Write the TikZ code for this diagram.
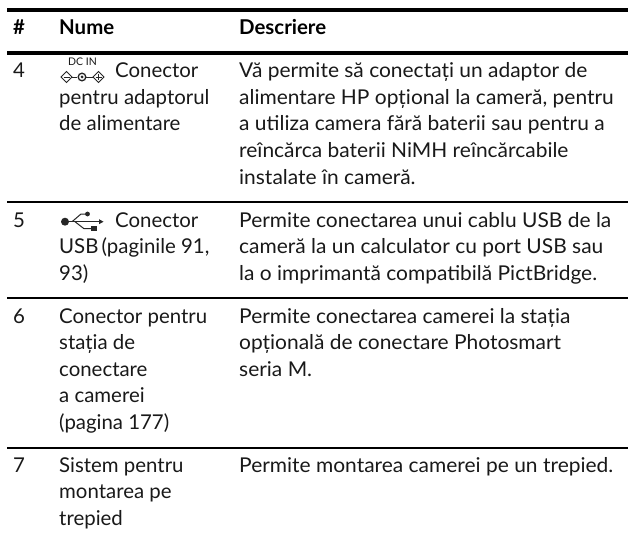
\documentclass[tikz,border=0pt]{standalone}
\usepackage{fontspec}
\setmainfont{Lato}
\newfontfamily\descfont[FakeStretch=1.027]{Lato}
\tikzset{
 txt/.style={anchor=base west,inner sep=0pt,font=\fontsize{20.4}{24}\selectfont,text=black!90},
 desc/.style={anchor=base west,inner sep=0pt,font=\descfont\fontsize{20.4}{24}\selectfont,text=black!90},
 hd/.style={anchor=base west,inner sep=0pt,font=\fontsize{20.4}{24}\selectfont\bfseries},
 tiny/.style={anchor=base west,inner sep=0pt,font=\fontsize{10.5}{11}\selectfont,text=black!90},
 thick rule/.style={line width=4pt},
 thin rule/.style={line width=2pt},
 icon/.style={line width=0.8pt,black!85},
}
\newcommand{\rowtext}[4]{\node[txt] (#1) at (#2,#3) {#4};}
\newcommand{\desctext}[3]{\node[desc] (#1) at (239,#2) {#3};}
\begin{document}
\begin{tikzpicture}[x=1pt,y=-1pt]
\useasboundingbox (0,0) rectangle (628,540);
\fill[white] (0,0) rectangle (628,540);
\draw[thick rule] (7,10)--(628,10);
\draw[thick rule] (7,53)--(628,53);
\draw[thin rule] (7,202)--(628,202);
\draw[thin rule] (7,298)--(628,298);
\draw[thin rule] (7,448)--(628,448);
\node[hd] (h1) at (13,35) {\#};
\node[hd] (h2) at (59,35) {Nume};
\node[hd] (h3) at (239,35) {Descriere};
% row 4
\rowtext{a}{13}{78}{4}
\rowtext{b}{115}{78}{Conector}
\rowtext{c}{59}{104.5}{pentru adaptorul}
\rowtext{d}{59}{131}{de alimentare}
\desctext{e}{78}{Vă permite să conectați un adaptor de}
\desctext{f}{104.5}{alimentare HP opțional la cameră, pentru}
\desctext{g}{131}{a utiliza camera fără baterii sau pentru a}
\desctext{i}{157.5}{reîncărca baterii NiMH reîncărcabile}
\desctext{j}{184}{instalate în cameră.}
% DC IN icon
\node[tiny] (dc) at (68,66) {DC IN};
\begin{scope}[icon]
\draw (66.5,71.5)--(72,77)--(66.5,82.5)--(61,77)--cycle;
\draw (63.5,77)--(69.5,77);
\draw (72,77)--(77,77);
\draw[line width=1.3pt] (82,77) circle (3.8);
\fill (82,77) circle (1.5);
\draw (86,77)--(93,77);
\draw (98.5,71.5)--(104,77)--(98.5,82.5)--(93,77)--cycle;
\draw (95.5,77)--(101.5,77) (98.5,74)--(98.5,80);
\end{scope}
% row 5
\rowtext{k}{13}{227}{5}
\rowtext{l}{115}{227}{Conector}
\rowtext{m}{59}{253.5}{USB\hspace{-2pt} (paginile 91,}
\rowtext{n}{59}{280}{93)}
\desctext{o}{227}{Permite conectarea unui cablu USB de la}
\desctext{p}{253.5}{cameră la un calculator cu port USB sau}
\desctext{q}{280}{la o imprimantă compatibilă PictBridge.}
% USB icon
\begin{scope}[icon]
\fill (65,221.7) circle (4);
\draw[line width=1pt] (68,221.7)--(100,221.7);
\fill (103.5,221.7)--(99,219.2)--(99,224.2)--cycle;
\draw[line width=1pt] (72,221.7)--(81,214)--(87,214);
\fill (87.5,214) circle (2.4);
\draw[line width=1pt] (75,221.7)--(84,228.7)--(91,228.7);
\fill (91,226.2) rectangle (96.5,231.2);
\end{scope}
% row 6
\rowtext{r}{13}{323}{6}
\rowtext{s}{59}{323}{Conector pentru}
\rowtext{t}{59}{349.5}{stația de}
\rowtext{u}{59}{376}{conectare}
\rowtext{v}{59}{402.5}{a camerei}
\rowtext{w}{59}{429}{(pagina 177)}
\desctext{x}{323}{Permite conectarea camerei la stația}
\desctext{y}{349.5}{opțională de conectare Photosmart}
\desctext{z}{376}{seria M.}
% row 7
\rowtext{aa}{13}{472}{7}
\rowtext{ab}{59}{472}{Sistem pentru}
\rowtext{ac}{59}{498.5}{montarea pe}
\rowtext{ad}{59}{525}{trepied}
\desctext{ae}{472}{Permite montarea camerei pe un trepied.}
\end{tikzpicture}
\end{document}
